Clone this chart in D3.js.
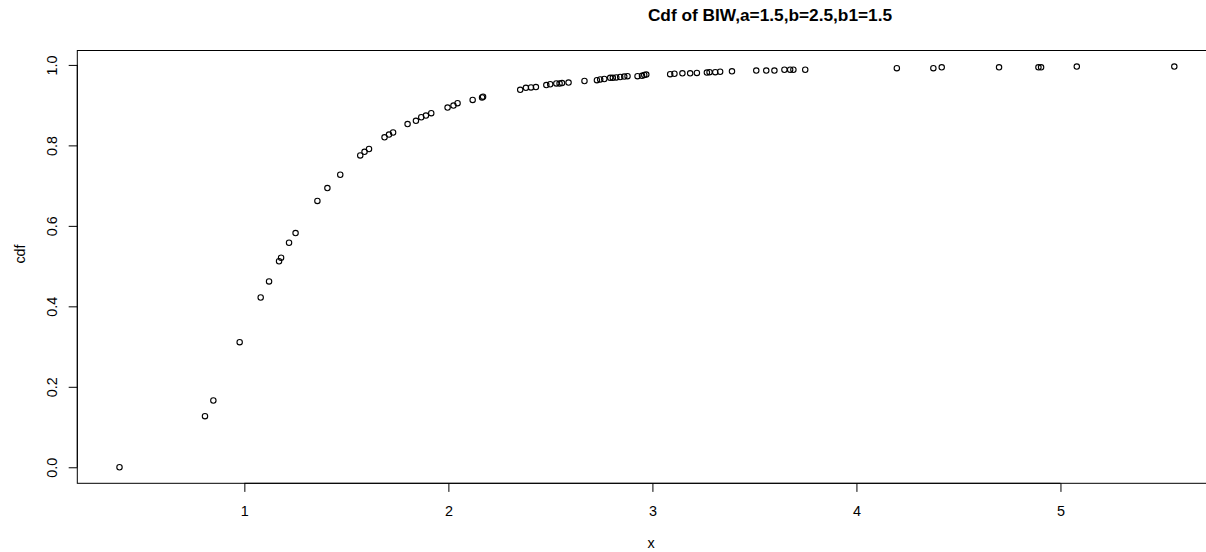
<!DOCTYPE html>
<html>
<head>
<meta charset="utf-8">
<script src="https://cdn.jsdelivr.net/npm/d3@7"></script>
<style>
  html, body { margin: 0; padding: 0; background: #fff; overflow: hidden; }
  svg { display: block; font-family: "Liberation Sans", Arial, Helvetica, sans-serif; }
</style>
</head>
<body>
<svg id="chart" width="1206" height="552"></svg>
<script>
// ---- data ----
const xValues = [
  0.388, 0.807, 0.848, 0.977, 1.080, 1.121, 1.170, 1.180, 1.219, 1.251,
  1.358, 1.407, 1.470, 1.568, 1.589, 1.611, 1.687, 1.709, 1.729, 1.800,
  1.841, 1.867, 1.890, 1.916, 1.996, 2.025, 2.045, 2.119, 2.165, 2.170,
  2.352, 2.380, 2.405, 2.429, 2.480, 2.499, 2.529, 2.545, 2.557, 2.589,
  2.667, 2.728, 2.744, 2.764, 2.793, 2.806, 2.823, 2.842, 2.862, 2.878,
  2.927, 2.949, 2.960, 2.970, 3.087, 3.108, 3.147, 3.185, 3.218, 3.267,
  3.280, 3.308, 3.332, 3.390, 3.509, 3.558, 3.598, 3.647, 3.675, 3.691,
  3.749, 4.198, 4.377, 4.418, 4.699, 4.892, 4.905, 5.080, 5.558
];
const cdfValues = [
  0.000, 0.127, 0.166, 0.311, 0.422, 0.462, 0.512, 0.521, 0.558, 0.582,
  0.662, 0.694, 0.727, 0.775, 0.784, 0.791, 0.820, 0.827, 0.832, 0.853,
  0.861, 0.870, 0.874, 0.880, 0.894, 0.899, 0.905, 0.913, 0.919, 0.921,
  0.938, 0.943, 0.944, 0.945, 0.950, 0.952, 0.954, 0.954, 0.955, 0.956,
  0.960, 0.962, 0.964, 0.965, 0.968, 0.968, 0.969, 0.970, 0.971, 0.972,
  0.972, 0.973, 0.975, 0.976, 0.977, 0.978, 0.979, 0.979, 0.980, 0.981,
  0.982, 0.982, 0.983, 0.984, 0.986, 0.986, 0.986, 0.988, 0.988, 0.988,
  0.988, 0.992, 0.992, 0.994, 0.994, 0.994, 0.994, 0.996, 0.996
];
const xTicks = [1, 2, 3, 4, 5];
const yTicks = [0.0, 0.2, 0.4, 0.6, 0.8, 1.0];
const titleText = "Cdf of BIW,a=1.5,b=2.5,b1=1.5";
const xLabel = "x";
const yLabel = "cdf";

// ---- layout ----
const plotLeft = 77.3, plotRight = 1216.5, plotTop = 50.5, plotBottom = 483.3;
const fontBase = 14.4;
const tickLen = 8.6;

function padded(ext) {
  const d = (ext[1] - ext[0]) * 0.04;
  return [ext[0] - d, ext[1] + d];
}
const x = d3.scaleLinear().domain(padded(d3.extent(xValues))).range([plotLeft, plotRight]);
const y = d3.scaleLinear().domain(padded(d3.extent(cdfValues))).range([plotBottom, plotTop]);

const svg = d3.select("#chart");

// box
svg.append("rect")
  .attr("x", plotLeft).attr("y", plotTop)
  .attr("width", plotRight - plotLeft).attr("height", plotBottom - plotTop)
  .attr("fill", "none").attr("stroke", "#000").attr("stroke-width", 1);

// x axis (R style: line from first to last tick)
const xAxis = d3.axisBottom(x).tickValues(xTicks).tickFormat(d3.format("d"))
  .tickSizeInner(tickLen).tickSizeOuter(0).tickPadding(13.9);
const gx = svg.append("g").attr("transform", `translate(0,${plotBottom})`).call(xAxis);
gx.select(".domain").remove();
gx.append("line")
  .attr("x1", x(xTicks[0])).attr("x2", x(xTicks[xTicks.length - 1]))
  .attr("stroke", "#000");
gx.selectAll(".tick text").attr("font-size", fontBase).attr("fill", "#000")
  .attr("font-family", "Liberation Sans, Arial, sans-serif");

// y axis
const yAxis = d3.axisLeft(y).tickValues(yTicks).tickFormat(d3.format(".1f"))
  .tickSizeInner(tickLen).tickSizeOuter(0);
const gy = svg.append("g").attr("transform", `translate(${plotLeft},0)`).call(yAxis);
gy.select(".domain").remove();
gy.append("line")
  .attr("y1", y(yTicks[0])).attr("y2", y(yTicks[yTicks.length - 1]))
  .attr("stroke", "#000");
gy.selectAll(".tick text")
  .attr("font-size", fontBase).attr("fill", "#000")
  .attr("font-family", "Liberation Sans, Arial, sans-serif")
  .attr("x", null).attr("dy", null)
  .attr("text-anchor", "middle")
  .attr("dominant-baseline", "central")
  .attr("transform", `translate(${52 - plotLeft},0) rotate(-90)`);

// points
svg.append("g").selectAll("circle")
  .data(xValues.map((v, i) => [v, cdfValues[i]]))
  .join("circle")
  .attr("cx", d => x(d[0]))
  .attr("cy", d => y(d[1]))
  .attr("r", 2.7)
  .attr("fill", "none")
  .attr("stroke", "#000")
  .attr("stroke-width", 1.1);

// title
svg.append("text")
  .attr("x", 770).attr("y", 21)
  .attr("text-anchor", "middle")
  .attr("font-size", fontBase * 1.2).attr("font-weight", "bold")
  .text(titleText);

// axis labels
svg.append("text")
  .attr("x", 651).attr("y", 548)
  .attr("text-anchor", "middle")
  .attr("font-size", fontBase)
  .text(xLabel);

svg.append("text")
  .attr("transform", `translate(19.5,254) rotate(-90)`)
  .attr("text-anchor", "middle")
  .attr("dominant-baseline", "central")
  .attr("font-size", fontBase)
  .text(yLabel);
</script>
</body>
</html>
